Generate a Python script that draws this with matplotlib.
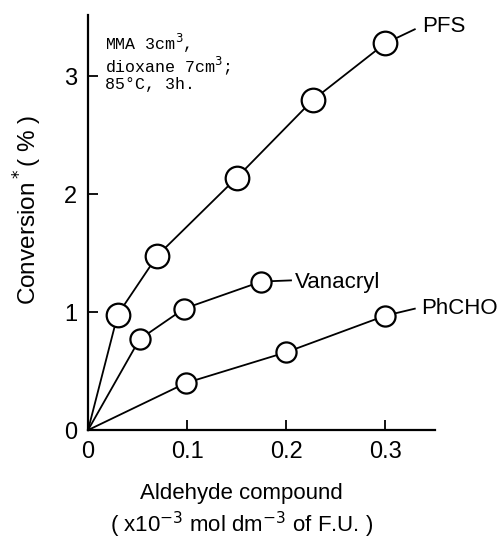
import matplotlib
matplotlib.use("Agg")
import matplotlib.pyplot as plt

# data
pfs_x = [0.0, 0.03, 0.07, 0.15, 0.227, 0.30]
pfs_y = [0.0, 0.98, 1.48, 2.14, 2.80, 3.28]
van_x = [0.0, 0.052, 0.097, 0.175]
van_y = [0.0, 0.77, 1.03, 1.26]
phc_x = [0.0, 0.099, 0.20, 0.30]
phc_y = [0.0, 0.40, 0.66, 0.97]
xticks = [0, 0.1, 0.2, 0.3]
xticklabels = ["0", "0.1", "0.2", "0.3"]
yticks = [0, 1, 2, 3]
yticklabels = ["0", "1", "2", "3"]

SANS = ["Liberation Sans", "DejaVu Sans"]
MONO = ["Liberation Mono", "DejaVu Sans Mono"]

fig = plt.figure(figsize=(5.03, 5.41), dpi=100)
ax = fig.add_axes([0.175, 0.205, 0.689, 0.767])
ax.set_xlim(0, 0.35)
ax.set_ylim(0, 3.52)

def series(xs, ys, ms, tail, label, loff, dy=0.0):
    ax.plot(xs, ys, color="black", lw=1.3, zorder=2, clip_on=False)
    ax.plot(xs[1:], ys[1:], "o", ms=ms, mfc="white", mec="black", mew=1.6,
            zorder=3, clip_on=False)
    ax.plot([xs[-1], tail[0]], [ys[-1], tail[1]], color="black", lw=1.3,
            zorder=2, clip_on=False)
    ax.text(tail[0] + loff, tail[1] + dy, label, fontsize=16, family=SANS,
            va="center", ha="left")

series(pfs_x, pfs_y, 17, (0.33, 3.40), "PFS", 0.007, 0.02)
series(van_x, van_y, 14.5, (0.205, 1.27), "Vanacryl", 0.004, -0.02)
series(phc_x, phc_y, 14.5, (0.33, 1.03), "PhCHO", 0.006)

for s in ["top", "right"]:
    ax.spines[s].set_visible(False)
for s in ["left", "bottom"]:
    ax.spines[s].set_linewidth(1.6)

ax.set_xticks(xticks)
ax.set_xticklabels(xticklabels, family=SANS, fontsize=17)
ax.set_yticks(yticks)
ax.set_yticklabels(yticklabels, family=SANS, fontsize=17)
ax.tick_params(direction="in", length=7, width=1.3, pad=8)

ax.text(0.017, 3.38, "MMA 3cm$^3$,\ndioxane 7cm$^3$;\n85\u00b0C, 3h.",
        family=MONO, fontsize=12, va="top", ha="left", linespacing=1.0)

fig.text(0.056, 0.613, "Conversion$^*$( % )", rotation=90, family=SANS,
         fontsize=17.5, ha="center", va="center")
fig.text(0.48, 0.088, "Aldehyde compound", family=SANS, fontsize=16,
         ha="center", va="center")
fig.text(0.48, 0.03, "( x10$^{-3}$ mol dm$^{-3}$ of F.U. )", family=SANS,
         fontsize=16, ha="center", va="center")

fig.savefig("out.png", dpi=100)
